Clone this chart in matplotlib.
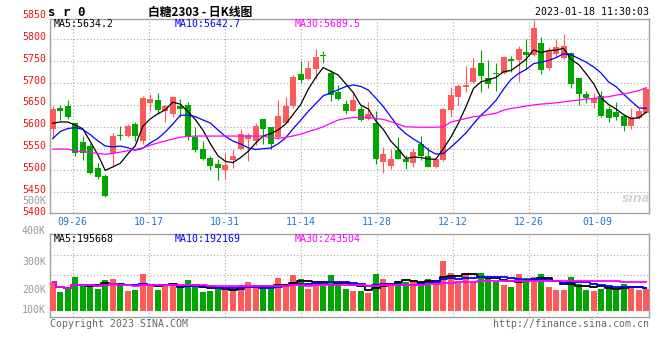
"""
白糖2303 日K线图 — 仿新浪财经K线图（蜡烛图 + 均线 + 成交量）
"""

import numpy as np
import pandas as pd
import matplotlib
matplotlib.use("Agg")
import matplotlib.pyplot as plt
import matplotlib.transforms as mtransforms

# ============================================================
# 1. ДАННЫЕ
# ============================================================
opens = [5596, 5644, 5647, 5608, 5565, 5556, 5506, 5487, 5539, 5582,
         5579, 5606, 5568, 5654, 5661, 5637, 5629, 5648, 5650, 5577,
         5550, 5529, 5515, 5501, 5524, 5550, 5572, 5567, 5617, 5599,
         5577, 5609, 5648, 5721, 5709, 5732, 5764, 5722, 5680, 5652,
         5637, 5641, 5617, 5609, 5519, 5510, 5547, 5526, 5516, 5561,
         5533, 5509, 5524, 5639, 5669, 5692, 5702, 5747, 5712, 5724,
         5722, 5754, 5753, 5771, 5765, 5791, 5734, 5766, 5757, 5770,
         5711, 5675, 5655, 5670, 5641, 5634, 5625, 5602, 5619, 5632]
highs = [5648, 5650, 5661, 5609, 5580, 5564, 5518, 5491, 5585, 5602,
         5606, 5611, 5670, 5675, 5677, 5650, 5671, 5664, 5657, 5599,
         5567, 5534, 5526, 5539, 5549, 5595, 5585, 5609, 5617, 5599,
         5661, 5668, 5718, 5750, 5750, 5777, 5774, 5730, 5696, 5661,
         5680, 5648, 5657, 5636, 5553, 5550, 5576, 5535, 5552, 5579,
         5554, 5526, 5644, 5692, 5698, 5738, 5757, 5776, 5753, 5745,
         5763, 5763, 5786, 5800, 5845, 5806, 5782, 5800, 5812, 5772,
         5711, 5682, 5677, 5683, 5648, 5656, 5629, 5642, 5644, 5692]
lows = [5574, 5615, 5617, 5533, 5525, 5493, 5481, 5440, 5508, 5570,
        5576, 5568, 5561, 5637, 5629, 5612, 5623, 5623, 5570, 5542,
        5524, 5500, 5478, 5481, 5505, 5548, 5522, 5558, 5561, 5549,
        5572, 5608, 5644, 5701, 5707, 5709, 5745, 5660, 5661, 5630,
        5636, 5614, 5616, 5515, 5495, 5504, 5526, 5503, 5509, 5524,
        5509, 5506, 5522, 5623, 5650, 5680, 5701, 5680, 5688, 5683,
        5721, 5726, 5703, 5732, 5762, 5721, 5731, 5760, 5754, 5688,
        5651, 5654, 5644, 5623, 5610, 5616, 5591, 5596, 5617, 5631]
closes = [5641, 5637, 5623, 5539, 5539, 5495, 5486, 5442, 5579, 5580,
          5602, 5580, 5666, 5663, 5638, 5648, 5668, 5641, 5579, 5547,
          5526, 5511, 5506, 5513, 5533, 5583, 5581, 5601, 5596, 5561,
          5625, 5648, 5714, 5707, 5735, 5760, 5761, 5672, 5664, 5635,
          5661, 5616, 5629, 5527, 5538, 5527, 5526, 5520, 5542, 5533,
          5509, 5526, 5641, 5673, 5694, 5696, 5735, 5717, 5697, 5720,
          5760, 5750, 5778, 5765, 5826, 5730, 5773, 5783, 5786, 5697,
          5674, 5667, 5667, 5625, 5621, 5623, 5602, 5623, 5635, 5686]

# скользящие средние цены (MA5 / MA10 / MA30)
ma5 = [5608, 5611, 5611, 5604, 5595.7, 5566.6, 5536.4, 5500.2, 5508.2, 5516.4,
       5537.7, 5556.6, 5601.3, 5618.1, 5629.8, 5638.9, 5656.5, 5651.6, 5634.8, 5616.5,
       5592.2, 5560.8, 5533.8, 5520.7, 5518.0, 5529.4, 5543.4, 5562.4, 5578.8, 5584.5,
       5592.7, 5606.0, 5628.6, 5650.8, 5685.6, 5712.8, 5735.5, 5727.1, 5718.5, 5698.4,
       5678.6, 5649.5, 5640.9, 5613.5, 5594.1, 5567.3, 5549.4, 5527.6, 5530.6, 5529.7,
       5526.0, 5525.9, 5550.2, 5576.2, 5608.4, 5645.8, 5687.7, 5702.8, 5707.7, 5712.9,
       5725.9, 5728.9, 5741.1, 5754.7, 5775.9, 5769.8, 5774.4, 5775.5, 5779.6, 5753.8,
       5742.6, 5721.3, 5698.1, 5665.9, 5650.7, 5640.5, 5627.5, 5618.6, 5620.6, 5633.6]
ma10 = [5573, 5589, 5596, 5598, 5594, 5582, 5568, 5556, 5554, 5556.0,
        5552.1, 5546.5, 5550.8, 5563.2, 5573.1, 5588.3, 5606.5, 5626.4, 5626.5, 5623.2,
        5615.6, 5608.6, 5592.7, 5577.8, 5567.3, 5560.8, 5552.1, 5548.1, 5549.8, 5551.3,
        5561.1, 5574.7, 5595.5, 5614.8, 5635.1, 5652.8, 5670.8, 5677.9, 5684.7, 5692.0,
        5695.7, 5692.5, 5684.0, 5666.0, 5646.3, 5623.0, 5599.5, 5584.3, 5572.1, 5561.9,
        5546.7, 5537.7, 5538.9, 5553.4, 5569.1, 5585.9, 5606.8, 5626.5, 5642.0, 5660.7,
        5685.9, 5708.3, 5722.0, 5731.2, 5744.4, 5747.9, 5751.7, 5758.3, 5767.2, 5764.9,
        5756.2, 5747.9, 5736.8, 5722.8, 5702.3, 5691.6, 5674.4, 5658.4, 5643.3, 5642.2]
ma30 = [5549, 5549, 5549, 5545, 5543, 5541.5, 5539, 5537, 5539, 5542,
        5545, 5548, 5551.6, 5558, 5563, 5567.6, 5572, 5576, 5578, 5578.8,
        5578.8, 5578.8, 5578.8, 5578.8, 5578.8, 5578.8, 5578.8, 5578.8, 5578.8, 5575,
        5573.5, 5575.8, 5579, 5583, 5588.8, 5594, 5600, 5608, 5615.5, 5619,
        5621, 5621.5, 5621.5, 5619, 5617, 5611.6, 5606, 5600, 5599.5, 5599,
        5599, 5599, 5600, 5611, 5615, 5619, 5623, 5625, 5628, 5631,
        5638, 5642, 5644.5, 5647.5, 5650, 5652, 5653, 5655, 5657, 5659.5,
        5661, 5663.5, 5665, 5667, 5669, 5672.5, 5675, 5678.7, 5683, 5689.5]

# объём, тыс. лотов
volumes_k = [250, 161, 190, 294, 230, 202, 190, 265, 274, 213,
             170, 178, 320, 213, 178, 219, 213, 202, 265, 202,
             161, 170, 187, 202, 178, 222, 248, 202, 202, 187,
             283, 230, 309, 274, 187, 257, 216, 309, 230, 187,
             170, 170, 152, 317, 274, 230, 257, 248, 265, 248,
             274, 248, 430, 326, 248, 326, 248, 326, 274, 248,
             222, 204, 317, 283, 291, 317, 204, 178, 178, 291,
             230, 178, 170, 187, 204, 196, 230, 204, 178, 187]

# подписи дат на оси X (индекс торгового дня -> подпись)
tick_idx = [3, 13, 23, 33, 43, 53, 63, 72]
tick_labels = ["09-26", "10-17", "10-31", "11-14", "11-28", "12-12", "12-26", "01-09"]

price_levels = [5850, 5800, 5750, 5700, 5650, 5600, 5550, 5500, 5450, 5400]
vol_labels = ["400K", "300K", "200K", "100K"]

ma_price_text = ["MA5:5634.2", "MA10:5642.7", "MA30:5689.5"]
ma_vol_text = ["MA5:195668", "MA10:192169", "MA30:243504"]

# ============================================================
# 2. ОФОРМЛЕНИЕ
# ============================================================
RED = "#ff5a5a"
GREEN = "#00a600"
GRID = "#a8a8a8"
BORDER = "#a0a0a0"
MA_COLORS = ["black", "#0000ff", "#ff00ff"]
MONO = "DejaVu Sans Mono"
FS = 7.1

W, H = 660, 360
fig = plt.figure(figsize=(W / 100, H / 100), dpi=100)


def box(l, t, r, b):
    return [l / W, 1 - b / H, (r - l) / W, (b - t) / H]


ax = fig.add_axes(box(50, 19.3, 649.3, 213.3))
axv = fig.add_axes(box(50, 234, 649.3, 317.3))

n = len(closes)
x = np.arange(n)
o = np.array(opens)
c = np.array(closes)
colors = np.where(c > o, RED, GREEN)
vol = np.array(volumes_k) * 1000

xlim = (-0.353, 79.4)
grid_x = np.array(tick_idx) * 1.0113 - 0.353

for a in (ax, axv):
    a.set_xlim(*xlim)
    a.set_xticks([])
    a.set_yticks([])
    for s in a.spines.values():
        s.set_color(BORDER)
        s.set_linewidth(1.0)
    for gx in grid_x:
        a.axvline(gx, color=GRID, lw=0.8, ls=(0, (1, 2)), zorder=0)

# ---- свечи ----
ax.set_ylim(5402, 5846)
for lvl in price_levels[1:-1]:
    ax.axhline(lvl, color=GRID, lw=0.8, ls=(0, (1, 2)), zorder=0)

ax.vlines(x, lows, highs, colors=colors, lw=0.8, zorder=3)
body_bottom = np.minimum(o, c)
body_height = np.maximum(np.abs(c - o), 1.5)
ax.bar(x, body_height, bottom=body_bottom, width=0.8, color=colors,
       linewidth=0, zorder=4)

for ma, col in zip([ma5, ma10, ma30], MA_COLORS):
    ax.plot(x, ma, color=col, lw=0.9, zorder=5)

# ---- объём ----
axv.set_ylim(-58000, 666000)
for yf in (0.748, 0.504):
    axv.axhline(-58000 + yf * 724000, color=GRID, lw=0.8, ls=(0, (1, 2)), zorder=0)
axv.bar(x, vol, width=0.8, color=colors, linewidth=0, zorder=3)
vol_s = pd.Series(vol)
for win, col in zip([5, 10, 30], MA_COLORS):
    axv.plot(x, vol_s.rolling(win, min_periods=1).mean(), color=col, lw=1.3,
             drawstyle="steps-mid", zorder=4)

# ============================================================
# 3. ТЕКСТ
# ============================================================
lbl_trans = mtransforms.offset_copy(
    mtransforms.blended_transform_factory(ax.transAxes, ax.transData),
    fig=fig, x=-4, y=2.5, units="dots")
for lvl in price_levels:
    ax.text(0, lvl, str(lvl), transform=lbl_trans, ha="right", va="center",
            color="#ee1111", fontsize=FS, family=MONO, clip_on=False)
ax.text(-0.0067, (213.3 - 200.7) / 194, "500K", transform=ax.transAxes,
        ha="right", va="center", color="#999999", fontsize=FS, family=MONO)

date_trans = mtransforms.blended_transform_factory(ax.transData, ax.transAxes)
for gx, lab in zip(grid_x, tick_labels):
    ax.text(gx, -0.0433, lab, transform=date_trans, ha="center", va="center",
            color="#1e78c8", fontsize=FS, family=MONO, clip_on=False)

for xs, txt, col in zip([54, 175, 295], ma_price_text, MA_COLORS):
    ax.text((xs - 50) / 599.3, (213.3 - 24.2) / 194, txt, transform=ax.transAxes,
            ha="left", va="center", color=col, fontsize=FS, family=MONO)
for xs, txt, col in zip([54, 175, 295], ma_vol_text, MA_COLORS):
    axv.text((xs - 50) / 599.3, (317.3 - 238.7) / 83.3, txt, transform=axv.transAxes,
             ha="left", va="center", color=col, fontsize=FS, family=MONO)

for yp, txt in zip([230.7, 261.7, 290, 310], vol_labels):
    axv.text(-0.0067, (317.3 - yp) / 83.3, txt, transform=axv.transAxes,
             ha="right", va="center", color="#999999", fontsize=FS, family=MONO,
             clip_on=False)

# шапка
fig.text(48 / W, 1 - 12 / H, "s r 0", ha="left", va="center", fontsize=9,
         family=MONO, weight="bold", color="black")
fig.text(200 / W, 1 - 12 / H, "白糖2303 - 日K线图", ha="center", va="center",
         fontsize=8.5, family=["Noto Sans CJK SC", "DejaVu Sans"], weight="bold",
         color="black")
fig.text(649 / W, 1 - 12 / H, "2023-01-18 11:30:03", ha="right", va="center",
         fontsize=FS, family=MONO, color="black")

# подвал
fig.text(50 / W, 1 - 324 / H, "Copyright 2023 SINA.COM", ha="left", va="center",
         fontsize=FS, family=MONO, color="#666666")
fig.text(649 / W, 1 - 324 / H, "http://finance.sina.com.cn", ha="right", va="center",
         fontsize=FS, family=MONO, color="#666666")

# водяной знак
fig.text(636 / W, 1 - 198 / H, "sina", ha="center", va="center", fontsize=9,
         style="italic", weight="bold", color="#d4d4d4", family="DejaVu Sans")

fig.savefig("out.png", dpi=100)
